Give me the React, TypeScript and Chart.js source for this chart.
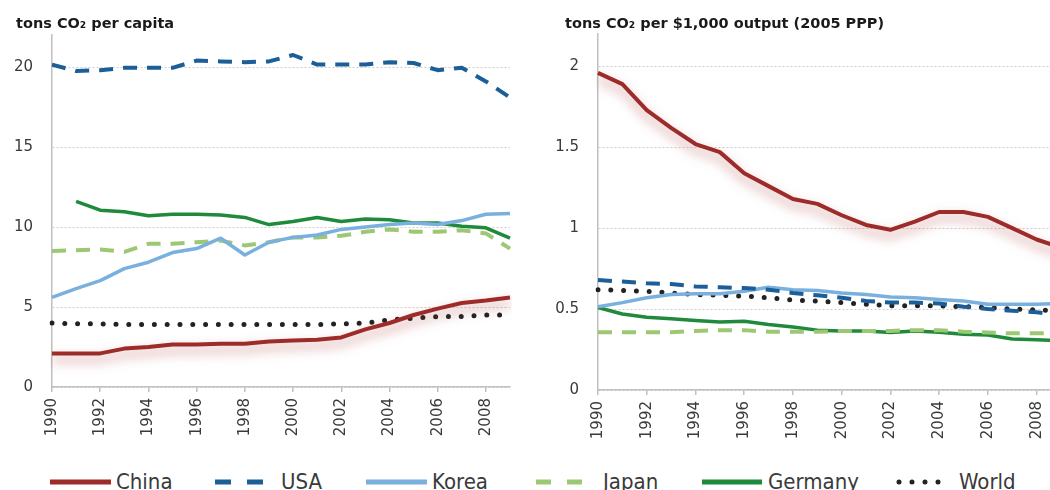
import React, { useEffect, useRef } from "react";
import { Chart, registerables } from "chart.js";

Chart.register(...registerables);

// ---------- data ----------
const years = [
  "1990", "1991", "1992", "1993", "1994", "1995", "1996", "1997", "1998", "1999",
  "2000", "2001", "2002", "2003", "2004", "2005", "2006", "2007", "2008", "2009",
];

const seriesNames = ["China", "USA", "Korea", "Japan", "Germany", "World"];

// tons CO2 per capita
const chinaPerCapita = [2.1, 2.1, 2.1, 2.4, 2.5, 2.65, 2.65, 2.7, 2.7, 2.85, 2.9, 2.95, 3.1, 3.6, 4.0, 4.5, 4.9, 5.25, 5.4, 5.6];
const usaPerCapita = [20.15, 19.75, 19.8, 19.95, 19.95, 19.95, 20.4, 20.35, 20.3, 20.35, 20.75, 20.15, 20.15, 20.15, 20.3, 20.25, 19.8, 19.95, 19.1, 18.1];
const koreaPerCapita = [5.6, 6.15, 6.65, 7.4, 7.8, 8.4, 8.65, 9.3, 8.25, 9.05, 9.35, 9.5, 9.85, 10.0, 10.15, 10.25, 10.15, 10.4, 10.8, 10.85];
const japanPerCapita = [8.5, 8.55, 8.6, 8.45, 8.95, 8.95, 9.05, 9.15, 8.85, 9.05, 9.35, 9.35, 9.45, 9.7, 9.85, 9.7, 9.7, 9.8, 9.6, 8.65];
const germanyPerCapita = [null, 11.6, 11.05, 10.95, 10.7, 10.8, 10.8, 10.75, 10.6, 10.15, 10.35, 10.6, 10.35, 10.5, 10.45, 10.25, 10.25, 10.05, 9.95, 9.3];
const worldPerCapita = [4.0, 3.95, 3.95, 3.9, 3.9, 3.9, 3.9, 3.9, 3.9, 3.9, 3.9, 3.9, 3.95, 4.0, 4.2, 4.3, 4.4, 4.4, 4.5, 4.5];

// tons CO2 per $1,000 output (2005 PPP)
const chinaPerOutput = [1.96, 1.89, 1.73, 1.62, 1.52, 1.47, 1.34, 1.26, 1.18, 1.15, 1.08, 1.02, 0.99, 1.04, 1.1, 1.1, 1.07, 1.0, 0.93, 0.88];
const usaPerOutput = [0.68, 0.67, 0.66, 0.655, 0.64, 0.635, 0.63, 0.62, 0.6, 0.585, 0.57, 0.55, 0.54, 0.54, 0.535, 0.515, 0.5, 0.49, 0.48, 0.46];
const koreaPerOutput = [0.515, 0.54, 0.57, 0.59, 0.595, 0.595, 0.61, 0.635, 0.62, 0.615, 0.6, 0.59, 0.575, 0.57, 0.56, 0.55, 0.53, 0.53, 0.53, 0.535];
const japanPerOutput = [0.357, 0.357, 0.357, 0.357, 0.365, 0.37, 0.37, 0.36, 0.36, 0.36, 0.365, 0.365, 0.365, 0.37, 0.37, 0.36, 0.355, 0.35, 0.35, 0.35];
const germanyPerOutput = [0.51, 0.47, 0.45, 0.44, 0.43, 0.42, 0.425, 0.405, 0.39, 0.37, 0.365, 0.365, 0.355, 0.365, 0.357, 0.345, 0.34, 0.315, 0.31, 0.305];
const worldPerOutput = [0.62, 0.615, 0.61, 0.6, 0.59, 0.585, 0.58, 0.57, 0.555, 0.55, 0.54, 0.53, 0.52, 0.52, 0.52, 0.515, 0.51, 0.5, 0.495, 0.49];

const leftTitle = "tons CO\u2082 per capita";
const rightTitle = "tons CO\u2082 per $1,000 output (2005 PPP)";

// ---------- styles ----------
const COLORS = ["#9D2B2A", "#1C5E97", "#79B0DE", "#9DC873", "#1F8A3B", "#222222"];
const TEXT = "#3a3a3a";
const AXIS = "#c0c0c0";
const TICK_FONT = { family: "'DejaVu Sans', sans-serif", size: 15 };

function styleFor(i: number) {
  switch (i) {
    case 0: return { borderWidth: 4, borderDash: [] as number[], borderCapStyle: "butt" };
    case 1: return { borderWidth: 4, borderDash: [14, 10], borderCapStyle: "butt" };
    case 2: return { borderWidth: 3.5, borderDash: [], borderCapStyle: "butt" };
    case 3: return { borderWidth: 4, borderDash: [14, 10], borderCapStyle: "butt" };
    case 4: return { borderWidth: 3.5, borderDash: [], borderCapStyle: "butt" };
    default: return { borderWidth: 5, borderDash: [0, 12.8], borderCapStyle: "round" };
  }
}

const glowPlugin = {
  id: "chinaGlow",
  beforeDatasetDraw(chart: any, args: any) {
    if (args.index !== 0) return;
    const ctx = chart.ctx;
    ctx.save();
    ctx.shadowColor = "rgba(175,60,60,0.55)";
    ctx.shadowBlur = 12;
    ctx.shadowOffsetY = 6;
  },
  afterDatasetDraw(chart: any, args: any) {
    if (args.index !== 0) return;
    chart.ctx.restore();
  },
};

function titlePlugin(text: string, x: number, y: number) {
  return {
    id: "cornerTitle",
    afterDraw(chart: any) {
      const ctx = chart.ctx;
      ctx.save();
      ctx.font = "bold 14.5px 'DejaVu Sans', sans-serif";
      ctx.fillStyle = "#1a1a1a";
      ctx.textBaseline = "alphabetic";
      ctx.textAlign = "left";
      ctx.fillText(text, x, y);
      ctx.restore();
    },
  };
}

type PanelProps = {
  series: (number | null)[][];
  max: number;
  step: number;
  title: string;
  titleX: number;
  yWidth: number;
  xHeight: number;
  padTop: number;
  padRight: number;
  width: number;
  height: number;
  left: number;
};

function Panel(p: PanelProps) {
  const ref = useRef<HTMLCanvasElement | null>(null);
  useEffect(() => {
    if (!ref.current) return;
    const datasets = p.series.map((d, i) => ({
      label: seriesNames[i],
      data: d,
      borderColor: COLORS[i],
      backgroundColor: COLORS[i],
      pointRadius: 0,
      pointHoverRadius: 0,
      tension: 0,
      fill: false,
      spanGaps: false,
      borderJoinStyle: "round",
      ...styleFor(i),
    }));
    const chart = new Chart(ref.current, {
      type: "line",
      data: { labels: years, datasets: datasets as any },
      options: {
        animation: false,
        responsive: false,
        maintainAspectRatio: false,
        devicePixelRatio: 1,
        layout: { padding: { top: p.padTop, right: p.padRight, left: 0, bottom: 0 } },
        plugins: { legend: { display: false }, tooltip: { enabled: false }, title: { display: false } },
        scales: {
          x: {
            type: "category",
            offset: false,
            grid: { display: true, drawOnChartArea: false, drawTicks: true, tickLength: 5, color: AXIS, lineWidth: 1.5 },
            border: { display: true, color: AXIS, width: 1.5 },
            ticks: { autoSkip: false, maxRotation: 90, minRotation: 90, padding: 6, font: TICK_FONT, color: TEXT },
            afterBuildTicks: (s: any) => {
              s.ticks = s.ticks.filter((t: any) => t.value % 2 === 0);
            },
            afterFit: (s: any) => {
              s.height = p.xHeight;
            },
          },
          y: {
            min: 0,
            max: p.max,
            ticks: {
              stepSize: p.step,
              includeBounds: false,
              padding: 19,
              font: TICK_FONT,
              color: TEXT,
              callback: (v: any) => String(Number(Number(v).toFixed(2))),
            },
            grid: { color: "#cdcdcd", drawTicks: false, lineWidth: 1 },
            border: { display: true, color: AXIS, width: 1.5, dash: [2, 2] },
            afterFit: (s: any) => {
              s.width = p.yWidth;
            },
          },
        },
      } as any,
      plugins: [glowPlugin, titlePlugin(p.title, p.titleX, 28)],
    });
    return () => chart.destroy();
  }, []);
  return (
    <canvas
      ref={ref}
      width={p.width}
      height={p.height}
      style={{ position: "absolute", left: p.left, top: 0, width: p.width, height: p.height }}
    />
  );
}

// legend layout (pixel positions of samples and labels)
const legendLayout = [
  { x1: 50, x2: 111, tx: 116 },
  { x1: 215, x2: 263, tx: 281 },
  { x1: 366, x2: 427, tx: 432 },
  { x1: 536, x2: 582, tx: 603 },
  { x1: 702, x2: 762, tx: 768 },
  { x1: 899, x2: 951, tx: 959 },
];

function Legend() {
  const y = 17;
  return (
    <svg width={1050} height={25} style={{ position: "absolute", left: 0, top: 465 }}>
      {seriesNames.map((name, i) => {
        const L = legendLayout[i];
        let dash: string | undefined;
        let cap: any = "butt";
        let w = 5;
        if (i === 1) dash = "16 16";
        if (i === 3) dash = "15 16";
        if (i === 5) { dash = "0 13"; cap = "round"; w = 5; }
        return (
          <g key={name}>
            <line x1={L.x1} x2={L.x2} y1={y} y2={y} stroke={COLORS[i]} strokeWidth={w} strokeDasharray={dash} strokeLinecap={cap} />
            <text
              x={L.tx}
              y={24}
              fill={TEXT}
              style={{ fontFamily: "'Liberation Sans Narrow', 'DejaVu Sans Condensed', sans-serif", fontSize: 22 }}
            >
              {name}
            </text>
          </g>
        );
      })}
    </svg>
  );
}

export default function App() {
  return (
    <div
      style={{
        position: "fixed",
        left: 0,
        top: 0,
        width: 1050,
        height: 490,
        overflow: "hidden",
        background: "#ffffff",
      }}
    >
      <Panel
        series={[chinaPerCapita, usaPerCapita, koreaPerCapita, japanPerCapita, germanyPerCapita, worldPerCapita]}
        max={22}
        step={5}
        title={leftTitle}
        titleX={16}
        yWidth={52}
        xHeight={63}
        padTop={35}
        padRight={15}
        width={525}
        height={450}
        left={0}
      />
      <Panel
        series={[chinaPerOutput, usaPerOutput, koreaPerOutput, japanPerOutput, germanyPerOutput, worldPerOutput]}
        max={2.2}
        step={0.5}
        title={rightTitle}
        titleX={35}
        yWidth={68}
        xHeight={60}
        padTop={34}
        padRight={14}
        width={545}
        height={450}
        left={530}
      />
      <Legend />
    </div>
  );
}
